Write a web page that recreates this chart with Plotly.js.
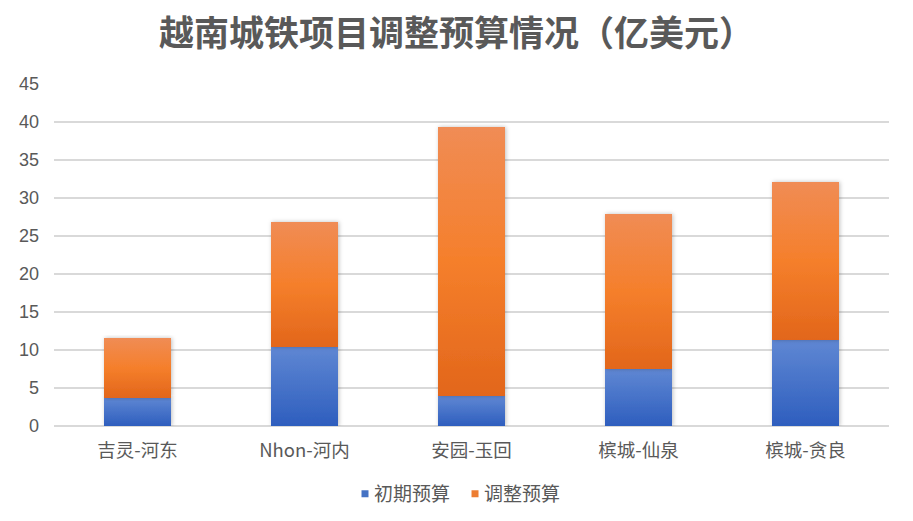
<!DOCTYPE html>
<html>
<head>
<meta charset="utf-8">
<script src="https://cdn.plot.ly/plotly-3.0.1.min.js"></script>
<style>
  html, body { margin: 0; padding: 0; background: #fff; }
  #chart { width: 913px; height: 521px; }
</style>
</head>
<body>
<div id="chart"></div>
<script>
const categories = ["吉灵-河东", "Nhon-河内", "安园-玉回", "槟城-仙泉", "槟城-贪良"];
const initialBudget = [3.75, 10.4, 3.9, 7.45, 11.3];
const adjustedBudget = [7.8, 16.4, 35.45, 20.5, 20.8];
const seriesNames = ["初期预算", "调整预算"];
const yTicks = [0, 5, 10, 15, 20, 25, 30, 35, 40, 45];

const fontFam = "'Liberation Sans', 'Noto Sans CJK SC', sans-serif";
const cjkFam = "'Noto Sans CJK SC', sans-serif";
const gray = "#595959";

const traces = [
  {
    type: "bar", name: seriesNames[0], x: categories, y: initialBudget,
    marker: { color: "#4472c4" }, width: 0.4, hoverinfo: "y"
  },
  {
    type: "bar", name: seriesNames[1], x: categories, y: adjustedBudget,
    marker: { color: "#ed7d31" }, width: 0.4, hoverinfo: "y"
  }
];

const layout = {
  width: 913, height: 521,
  barmode: "stack",
  paper_bgcolor: "#fff", plot_bgcolor: "#fff",
  margin: { l: 54, r: 24, t: 84, b: 95 },
  title: {
    text: "<b>越南城铁项目调整预算情况（亿美元）</b>",
    font: { family: cjkFam, size: 35, color: gray },
    x: 0.5, xanchor: "center", y: 0.935, yanchor: "middle"
  },
  xaxis: {
    type: "category",
    tickfont: { family: cjkFam, size: 18.5, color: gray },
    showgrid: false, showline: false, ticks: "",
    ticklabelstandoff: 11
  },
  yaxis: {
    range: [0, 45], tickvals: yTicks,
    tickfont: { family: fontFam, size: 18, color: gray },
    showgrid: true, gridcolor: "#d9d9d9", gridwidth: 1.5,
    zeroline: true, zerolinecolor: "#d9d9d9", zerolinewidth: 1.5,
    showline: false, ticks: "",
    ticklabelstandoff: 14
  },
  showlegend: true,
  legend: {
    orientation: "h", x: 0.5, xanchor: "center",
    yref: "container", y: 0.052, yanchor: "middle",
    font: { family: cjkFam, size: 19, color: gray },
    itemwidth: 30, traceorder: "normal"
  }
};

Plotly.newPlot("chart", traces, layout, { displayModeBar: false, staticPlot: true }).then(function (gd) {
  const svg = gd.querySelector("svg.main-svg");
  const ns = "http://www.w3.org/2000/svg";
  let defs = svg.querySelector("defs");
  if (!defs) { defs = document.createElementNS(ns, "defs"); svg.insertBefore(defs, svg.firstChild); }
  const grads = [
    { id: "gBlue", stops: [["0%", "#5f87d3"], ["100%", "#2e5ebe"]] },
    { id: "gOrange", stops: [["0%", "#f08c55"], ["50%", "#f57f2b"], ["100%", "#e2661b"]] }
  ];
  grads.forEach(function (g) {
    const lg = document.createElementNS(ns, "linearGradient");
    lg.setAttribute("id", g.id);
    lg.setAttribute("x1", "0"); lg.setAttribute("y1", "0");
    lg.setAttribute("x2", "0"); lg.setAttribute("y2", "1");
    g.stops.forEach(function (s) {
      const st = document.createElementNS(ns, "stop");
      st.setAttribute("offset", s[0]);
      st.setAttribute("stop-color", s[1]);
      lg.appendChild(st);
    });
    defs.appendChild(lg);
  });
  const flt = document.createElementNS(ns, "filter");
  flt.setAttribute("id", "barShadow");
  flt.setAttribute("x", "-20%"); flt.setAttribute("y", "-5%");
  flt.setAttribute("width", "140%"); flt.setAttribute("height", "110%");
  const ds = document.createElementNS(ns, "feDropShadow");
  ds.setAttribute("dx", "1"); ds.setAttribute("dy", "0");
  ds.setAttribute("stdDeviation", "2"); ds.setAttribute("flood-color", "#000");
  ds.setAttribute("flood-opacity", "0.25");
  flt.appendChild(ds);
  defs.appendChild(flt);

  const traceGroups = gd.querySelectorAll(".barlayer .trace");
  traceGroups.forEach(function (tg, i) {
    tg.querySelectorAll("path").forEach(function (p) {
      p.style.fill = i === 0 ? "url(#gBlue)" : "url(#gOrange)";
      p.style.filter = "url(#barShadow)";
    });
  });

  // Compact legend: small square markers placed close to the text
  const shifts = [3, -8];
  gd.querySelectorAll(".legend .traces").forEach(function (item, i) {
    item.querySelectorAll(".legendpoints path").forEach(function (p) {
      p.setAttribute("d", "M-3.5,-3.5h7v7h-7z");
      p.setAttribute("transform", "translate(12,0)");
      p.style.stroke = "none";
    });
    const t = item.querySelector(".legendtext");
    if (t) t.setAttribute("x", "21");
    const tr = item.getAttribute("transform") || "";
    const m = tr.match(/translate\(\s*([-\d.]+)[ ,]+([-\d.]+)\s*\)/);
    if (m) {
      const dx = shifts[i] || 0;
      item.setAttribute("transform", "translate(" + (parseFloat(m[1]) + dx) + "," + m[2] + ")");
    }
  });
});
</script>
</body>
</html>
